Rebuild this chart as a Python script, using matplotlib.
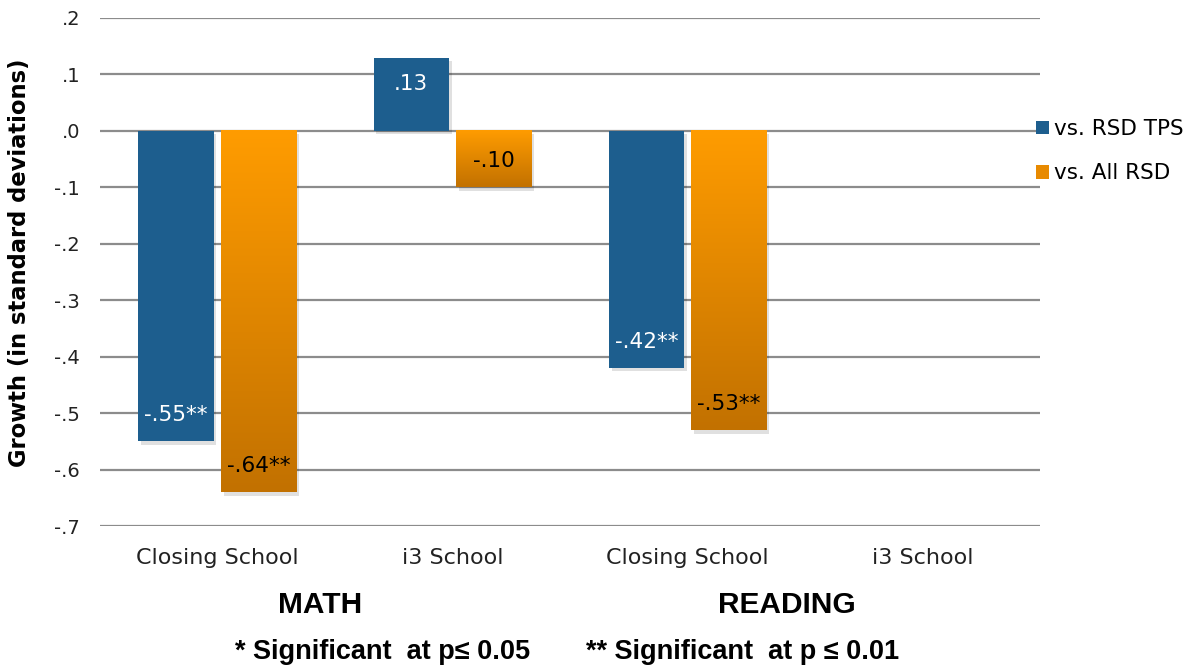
import numpy as np
import matplotlib
matplotlib.use("Agg")
import matplotlib.pyplot as plt
from matplotlib.colors import LinearSegmentedColormap
from matplotlib.patches import Rectangle

categories = ["Closing School", "i3 School", "Closing School", "i3 School"]
groups = ["MATH", "READING"]
series_names = ["vs. RSD TPS", "vs. All RSD"]
tps_values = [-0.55, 0.13, -0.42, np.nan]
all_values = [-0.64, -0.10, -0.53, np.nan]
tps_labels = ["-.55**", ".13", "-.42**", ""]
all_labels = ["-.64**", "-.10", "-.53**", ""]
yticks = [0.2, 0.1, 0.0, -0.1, -0.2, -0.3, -0.4, -0.5, -0.6, -0.7]
ytick_labels = [".2", ".1", ".0", "-.1", "-.2", "-.3", "-.4", "-.5", "-.6", "-.7"]

blue = "#1d5e8e"
orange_top = "#ff9c00"
orange_bot = "#c27100"
grid_c = "#8c8c8c"
arial = ["Liberation Sans", "DejaVu Sans"]

fig = plt.figure(figsize=(12, 6.66), dpi=100)
ax = fig.add_axes([0.083, 0.21, 0.784, 0.763])

x = np.arange(len(categories))
w = 0.32
gap = 0.03

ax.set_yticks(yticks)
ax.set_yticklabels(ytick_labels, fontsize=14, color="#222222")
ax.set_xticks(x)
ax.set_xticklabels(categories, fontsize=16, color="#222222")
ax.tick_params(length=0)
ax.tick_params(axis="y", pad=14)
ax.tick_params(axis="x", pad=16)
for s in ax.spines.values():
    s.set_visible(False)
ax.grid(axis="y", color=grid_c, linewidth=1.6)
ax.set_axisbelow(True)

bars_tps = ax.bar(x - (w + gap) / 2, tps_values, width=w, color=blue, zorder=3)
bars_all = ax.bar(x + (w + gap) / 2, all_values, width=w, color="none", zorder=3)

cmap = LinearSegmentedColormap.from_list("org", [orange_top, orange_bot])
grad = np.linspace(0, 1, 256).reshape(-1, 1)

# soft drop shadows behind every bar
for b in list(bars_tps) + list(bars_all):
    h = b.get_height()
    if np.isnan(h):
        continue
    x0, y0, bw = b.get_x(), b.get_y(), b.get_width()
    sh = Rectangle((x0 + 0.012, min(y0, y0 + h) - 0.006), bw, abs(h),
                   facecolor="#000000", alpha=0.12, zorder=2, linewidth=0)
    ax.add_patch(sh)

# vertical orange gradient inside each second-series bar
for b in bars_all:
    h = b.get_height()
    if np.isnan(h):
        continue
    x0, y0, bw = b.get_x(), b.get_y(), b.get_width()
    top, bot = max(y0, y0 + h), min(y0, y0 + h)
    ax.imshow(grad, cmap=cmap, aspect="auto", extent=(x0, x0 + bw, bot, top),
              origin="upper", zorder=3, interpolation="bilinear")
ax.set_xlim(-0.5, len(categories) - 0.5)
ax.set_ylim(-0.7, 0.2)

# value labels just inside the bar ends
for bars, labels, col in ((bars_tps, tps_labels, "white"), (bars_all, all_labels, "black")):
    for b, lab in zip(bars, labels):
        h = b.get_height()
        if np.isnan(h) or not lab:
            continue
        cx = b.get_x() + b.get_width() / 2
        off = -19 if h > 0 else 19
        ax.annotate(lab, (cx, h), xytext=(0, off), textcoords="offset points",
                    ha="center", va="center", fontsize=15.5, color=col, zorder=5)

ax.set_ylabel("Growth (in standard deviations)", fontsize=16.3, fontweight="bold")
ax.yaxis.set_label_coords(-0.073, 0.518)

# group titles under the category labels
group_x = [0.436, 2.42]
for gx, g in zip(group_x, groups):
    ax.text(gx, -0.155, g, transform=ax.get_xaxis_transform(),
            ha="center", va="center", fontsize=21.5, fontweight="bold", family=arial)

# legend
handles = [Rectangle((0, 0), 1, 1, facecolor=blue),
           Rectangle((0, 0), 1, 1, facecolor="#e88a00")]
fig.legend(handles, series_names, loc="upper left", bbox_to_anchor=(0.856, 0.834),
           frameon=False, fontsize=15.5, handlelength=0.6, handleheight=0.6,
           handletextpad=0.25, labelspacing=1.12, borderaxespad=0)

fnote = dict(fontsize=19.5, fontweight="bold", va="center", family=arial)
fig.text(0.196, 0.021, "* Significant  at p\u2264 0.05", ha="left", **fnote)
fig.text(0.488, 0.021, "** Significant  at p \u2264 0.01", ha="left", **fnote)

fig.savefig("out.png", dpi=100)
